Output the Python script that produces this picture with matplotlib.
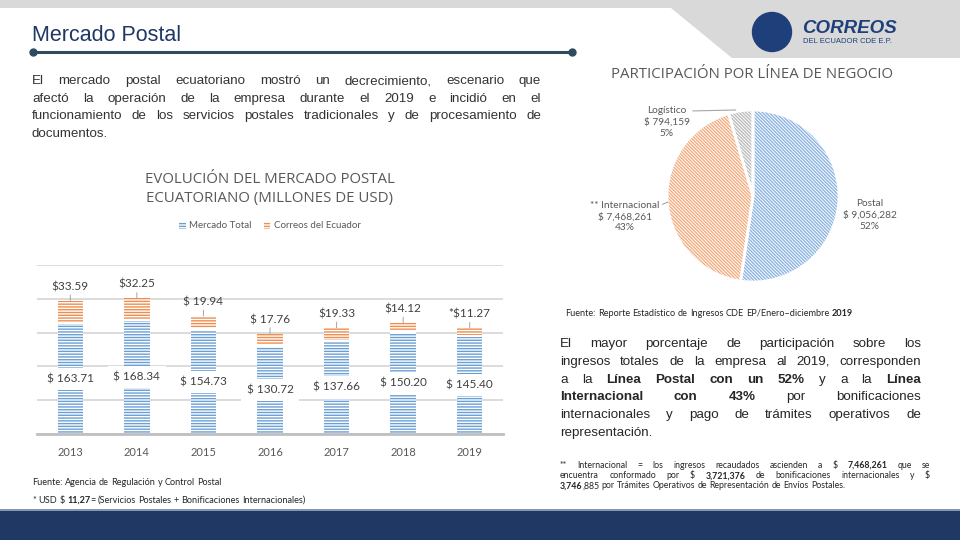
import numpy as np
import matplotlib
matplotlib.use('Agg')
import matplotlib.pyplot as plt
from matplotlib.patches import Polygon, Circle, Rectangle, Patch

plt.rcParams['font.family'] = ['Lato', 'DejaVu Sans']
plt.rcParams['hatch.linewidth'] = 1.0

# --- data ---
years = ['2013', '2014', '2015', '2016', '2017', '2018', '2019']
mercado_total = [163.71, 168.34, 154.73, 130.72, 137.66, 150.20, 145.40]
correos = [33.59, 32.25, 19.94, 17.76, 19.33, 14.12, 11.27]
total_labels = ['$ 163.71', '$ 168.34', '$ 154.73', '$ 130.72', '$ 137.66', '$ 150.20', '$ 145.40']
correos_labels = ['$33.59', '$32.25', '$ 19.94', '$ 17.76', '$19.33', '$14.12', '*$11.27']

lineas = ['Postal', '** Internacional', 'Logístico']
ingresos = [9056282, 7468261, 794159]

intro = ['El mercado postal ecuatoriano mostró un decrecimiento, escenario que',
         'afectó la operación de la empresa durante el 2019 e incidió en el',
         'funcionamiento de los servicios postales tradicionales y de procesamiento de',
         'documentos.']
resumen = ['El mayor porcentaje de participación sobre los',
           'ingresos totales de la empresa al 2019, corresponden',
           'a la {Línea Postal con un 52%} y a la {Línea}',
           '{Internacional con 43%} por bonificaciones',
           'internacionales y pago de trámites operativos de',
           'representación.']
nota = ['** Internacional =  los ingresos recaudados ascienden a $ {7,468,261}  que se',
        'encuentra conformado por $ {3,721,376} de bonificaciones internacionales y $',
        '{3,746},885 por Trámites Operativos de Representación de Envíos Postales.']

blue = '#6b9fd4'
orange = '#ee8d4f'
grey_txt = '#595959'
navy = '#1f3864'

fig = plt.figure(figsize=(9.6, 5.4), dpi=100)
ov = fig.add_axes([0, 0, 1, 1])
ov.set_xlim(0, 960)
ov.set_ylim(540, 0)
ov.axis('off')
rend = fig.canvas.get_renderer()

# header shapes
ov.add_patch(Polygon([(0, 0), (960, 0), (960, 58), (732, 58), (671, 8), (0, 8)],
                     closed=True, color='#d9d9d9', lw=0))
ov.add_patch(Rectangle((0, 510), 960, 30, color=navy, lw=0))
ov.add_patch(Rectangle((0, 508.5), 960, 2, color='#8497b0', lw=0))
ov.text(32, 41, 'Mercado Postal', fontsize=15.5, family='Liberation Sans', color=navy, va='baseline')
ov.plot([33, 572], [52, 52], color='#2f4a5e', lw=2.2)
ov.plot([33, 572], [52, 52], 'o', color='#2f4a5e', ms=5)

# logo
ov.add_patch(Circle((772, 32), 19.5, color='#1f3f7a'))
ov.text(802, 33, 'CORREOS', fontsize=13.5, family='Liberation Sans', fontweight='bold',
        style='italic', color='#1f3f7a', va='baseline')
ov.text(803, 43, 'DEL ECUADOR CDE E.P.', fontsize=5.5, family='Liberation Sans',
        color='#1f3f7a', va='baseline')


def parse(line):
    words, bold = [], False
    for w in line.split():
        segs, cur = [], ''
        for ch in w:
            if ch in '{}':
                if cur:
                    segs.append((cur, bold))
                    cur = ''
                bold = ch == '{'
            else:
                cur += ch
        if cur:
            segs.append((cur, bold))
        words.append(segs)
    return words


def text_w(s, size, family, bold):
    t = ov.text(0, 0, s, fontsize=size, family=family, fontweight='bold' if bold else 'normal')
    w = t.get_window_extent(renderer=rend).width
    t.remove()
    return w


def write_line(line, x0, x1, y, size, family, color, justify=True):
    words = parse(line)
    widths = [[text_w(s, size, family, b) for s, b in w] for w in words]
    total = sum(sum(ws) for ws in widths)
    if justify and len(words) > 1:
        gap = (x1 - x0 - total) / (len(words) - 1)
    else:
        gap = text_w('a a', size, family, False) - 2 * text_w('a', size, family, False)
    x = x0
    for segs, ws in zip(words, widths):
        for (s, b), w in zip(segs, ws):
            ov.text(x, y, s, fontsize=size, family=family, color=color, va='baseline',
                    fontweight='bold' if b else 'normal')
            x += w
        x += gap


for i, line in enumerate(intro):
    write_line(line, 32, 541, 84 + i * 17.6, 9.6, 'Liberation Sans', '#333333', i < len(intro) - 1)
for i, line in enumerate(resumen):
    write_line(line, 560, 921, 347 + i * 17.8, 9.6, 'Liberation Sans', '#262626', i < len(resumen) - 1)
for i, line in enumerate(nota):
    write_line(line, 560, 930, 468 + i * 10.2, 6.3, 'Lato', '#262626', i < len(nota) - 1)

write_line('Fuente: Reporte Estadístico de Ingresos CDE EP/Enero–diciembre {2019}',
           565, 886, 316, 6.6, 'Lato', '#262626', False)
write_line('Fuente: Agencia de Regulación y Control Postal', 32, 245, 485, 6.6, 'Lato', '#262626', False)
write_line('* USD $ {11,27}= (Servicios Postales + Bonificaciones Internacionales)',
           32, 338, 503, 6.6, 'Lato', '#262626', False)

# titles
ov.text(270, 189, 'EVOLUCIÓN DEL MERCADO POSTAL\nECUATORIANO (MILLONES DE USD)', fontsize=10.8,
        color=grey_txt, ha='center', va='center', linespacing=1.3, family='Open Sans')
ov.text(752, 74, 'PARTICIPACIÓN POR LÍNEA DE NEGOCIO', fontsize=10.8, color=grey_txt,
        ha='center', va='center', family='Open Sans')

# --- bar chart ---
ax = fig.add_axes([37 / 960, 106 / 540, 466 / 960, 169 / 540])
ax.set_facecolor('none')
x = np.arange(len(years))
w = 0.38
ax.bar(x, mercado_total, w, color='white', edgecolor=blue, hatch='------', lw=0, zorder=2)
ax.bar(x, correos, w, bottom=mercado_total, color='white', edgecolor=orange, hatch='------',
       lw=0, zorder=2)
ax.hlines(mercado_total, x - w / 2, x + w / 2, color='white', lw=1.5, zorder=3)

for xi, v, lbl in zip(x, mercado_total, total_labels):
    ax.text(xi, v / 2, lbl, ha='center', va='center', fontsize=8.5, color='#404040', zorder=4,
            bbox=dict(facecolor='white', edgecolor='none', pad=4))
for xi, v, c, lbl in zip(x, mercado_total, correos, correos_labels):
    ax.annotate(lbl, xy=(xi, v + c), xytext=(0, 14), textcoords='offset pixels',
                ha='center', va='center', fontsize=8.5, color='#404040', zorder=4,
                arrowprops=dict(arrowstyle='-', color='#a6a6a6', lw=0.7, shrinkA=0, shrinkB=0))

ax.set_xlim(-0.5, len(years) - 0.5)
ax.set_ylim(0, 250)
ax.set_yticks(np.arange(0, 251, 50))
ax.set_yticklabels([])
ax.set_xticks(x)
ax.set_xticklabels(years, fontsize=8, color=grey_txt)
ax.tick_params(length=0, pad=9)
ax.grid(axis='y', color='#d9d9d9', lw=1.3)
ax.set_axisbelow(True)
for s in ['top', 'left', 'right']:
    ax.spines[s].set_visible(False)
ax.spines['bottom'].set_color('#bfbfbf')
ax.spines['bottom'].set_linewidth(2)

handles = [Patch(facecolor='white', edgecolor=blue, hatch='------', lw=0),
           Patch(facecolor='white', edgecolor=orange, hatch='------', lw=0)]
fig.legend(handles, ['Mercado Total', 'Correos del Ecuador'], loc='center',
           bbox_to_anchor=(270 / 960, 1 - 226 / 540), ncol=2, frameon=False, fontsize=7,
           handlelength=0.7, handleheight=0.7, handletextpad=0.4, columnspacing=1.2,
           labelcolor=grey_txt)

# --- pie chart ---
axp = fig.add_axes([(753 - 86) / 960, (540 - 196 - 86) / 540, 172 / 960, 172 / 540])
axp.set_facecolor('none')
pie_colors = ['#8db4e2', '#f4ad80', '#bdbdbd']
wedges, _ = axp.pie(ingresos, startangle=90, counterclock=False, radius=1,
                    colors=['white'] * 3)
for wd, c in zip(wedges, pie_colors):
    wd.set_edgecolor(c)
    wd.set_hatch('\\' * 10)
    wd.set_linewidth(0)
axp.pie(ingresos, startangle=90, counterclock=False, radius=1,
        wedgeprops=dict(fill=False, edgecolor='white', lw=2))
axp.set_xlim(-1, 1)
axp.set_ylim(-1, 1)

tot = sum(ingresos)
pie_txt = [f'{n}\n$ {v:,}\n{v / tot:.0%}' for n, v in zip(lineas, ingresos)]
txt_pos = [(1.36, -0.22), (-1.49, -0.24), (-1.0, 0.86)]
lead_pos = [None, (-0.99, -0.07), (-0.2, 1.0)]
for t, tp, lp in zip(pie_txt, txt_pos, lead_pos):
    if lp is None:
        axp.text(tp[0], tp[1], t, ha='center', va='center', fontsize=7.3, color=grey_txt,
                 linespacing=1.3)
    else:
        axp.annotate(t, xy=lp, xytext=tp, ha='center', va='center', fontsize=7.3,
                     color=grey_txt, linespacing=1.3,
                     arrowprops=dict(arrowstyle='-', color='#a6a6a6', lw=0.8,
                                     shrinkA=0, shrinkB=0, relpos=(1.0, 0.85)))

fig.savefig('out.png', dpi=100)
